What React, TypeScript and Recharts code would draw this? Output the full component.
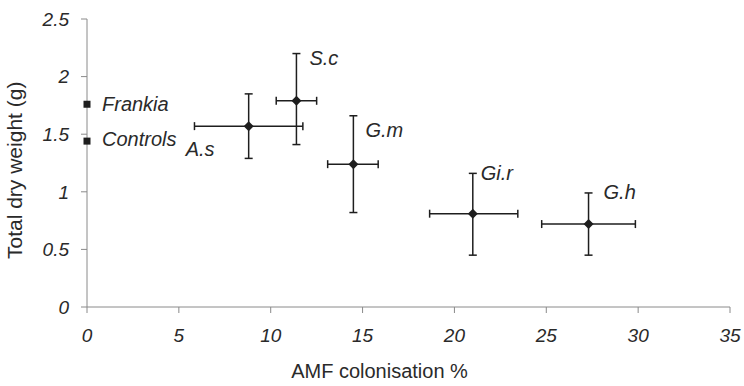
import {
    ScatterChart,
    Scatter,
    XAxis,
    YAxis,
    ErrorBar,
    LabelList,
} from 'recharts'

// AMF treatments: colonisation %, total dry weight (g), errors as [minus, plus]
const isolates = ['A.s', 'S.c', 'G.m', 'Gi.r', 'G.h']
const colonisation = [8.8, 11.4, 14.5, 21.0, 27.3]
const dryWeight = [1.57, 1.79, 1.24, 0.81, 0.72]
const colonisationErr = [[2.95, 2.95], [1.1, 1.1], [1.4, 1.35], [2.35, 2.45], [2.55, 2.55]]
const dryWeightErr = [[0.28, 0.28], [0.38, 0.41], [0.42, 0.42], [0.36, 0.35], [0.27, 0.27]]

// non-mycorrhizal treatments, plotted at 0 %
const references = ['Frankia', 'Controls']
const referenceWeight = [1.76, 1.44]

const xTicks = [0, 5, 10, 15, 20, 25, 30, 35]
const yTicks = [0, 0.5, 1, 1.5, 2, 2.5]

const amfData = isolates.map((name, i) => ({
    name,
    x: colonisation[i],
    y: dryWeight[i],
    xErr: colonisationErr[i],
    yErr: dryWeightErr[i],
}))

const refData = references.map((name, i) => ({ name, x: 0, y: referenceWeight[i] }))

const FONT = 'Arial, "Liberation Sans", sans-serif'
const AXIS = '#8a8a8a'
const INK = '#1e1e1e'
const TEXT = '#2a2a2a'

// where each label baseline sits relative to its point
const labelOffset: Record<string, [number, number]> = {
    'A.s': [-63, 30],
    'S.c': [13, -36],
    'G.m': [12, -27],
    'Gi.r': [8, -34],
    'G.h': [15, -25],
    Frankia: [15, 7],
    Controls: [15, 5],
}

function Diamond({ cx, cy }: { cx?: number; cy?: number }) {
    if (cx == null || cy == null) return null
    const r = 5
    return <polygon points={`${cx},${cy - r} ${cx + r},${cy} ${cx},${cy + r} ${cx - r},${cy}`} fill={INK} />
}

function Square({ cx, cy }: { cx?: number; cy?: number }) {
    if (cx == null || cy == null) return null
    return <rect x={cx - 3.5} y={cy - 3.5} width={7} height={7} fill={INK} />
}

function PointLabel(props: any) {
    const { x, y, width, height, value } = props
    const [dx, dy] = labelOffset[value] ?? [10, -10]
    return (
        <text
            x={x + width / 2 + dx}
            y={y + height / 2 + dy}
            fontSize={20}
            fontStyle="italic"
            fontFamily={FONT}
            fill={TEXT}
        >
            {value}
        </text>
    )
}

export default function App() {
    return (
        <div style={{ position: 'absolute', left: 0, top: 0, width: 744, height: 386, background: '#fff' }}>
            <ScatterChart width={744} height={386} margin={{ top: 19, right: 14, bottom: 0, left: 0 }}>
                <XAxis
                    type="number"
                    dataKey="x"
                    domain={[0, 35]}
                    ticks={xTicks}
                    interval={0}
                    height={79}
                    stroke={AXIS}
                    tickSize={6}
                    tickMargin={16}
                    tick={{ fill: TEXT, fontSize: 19, fontStyle: 'italic', fontFamily: FONT }}
                    label={{
                        value: 'AMF colonisation %',
                        position: 'insideBottom',
                        offset: 8,
                        dx: -29,
                        fill: TEXT,
                        fontSize: 20,
                        fontFamily: FONT,
                    }}
                />
                <YAxis
                    type="number"
                    dataKey="y"
                    domain={[0, 2.5]}
                    ticks={yTicks}
                    interval={0}
                    width={87}
                    stroke={AXIS}
                    tickSize={6}
                    tickMargin={12}
                    tick={{ fill: TEXT, fontSize: 19, fontStyle: 'italic', fontFamily: FONT }}
                    label={{
                        value: 'Total dry weight (g)',
                        angle: -90,
                        position: 'insideLeft',
                        offset: 15,
                        dy: 96,
                        fill: TEXT,
                        fontSize: 21,
                        fontFamily: FONT,
                    }}
                />
                <Scatter data={amfData} shape={<Diamond />} isAnimationActive={false}>
                    <ErrorBar dataKey="xErr" direction="x" width={4} stroke={INK} strokeWidth={1.5} isAnimationActive={false} />
                    <ErrorBar dataKey="yErr" direction="y" width={4} stroke={INK} strokeWidth={1.5} isAnimationActive={false} />
                    <LabelList dataKey="name" content={<PointLabel />} />
                </Scatter>
                <Scatter data={refData} shape={<Square />} isAnimationActive={false}>
                    <LabelList dataKey="name" content={<PointLabel />} />
                </Scatter>
            </ScatterChart>
        </div>
    )
}
